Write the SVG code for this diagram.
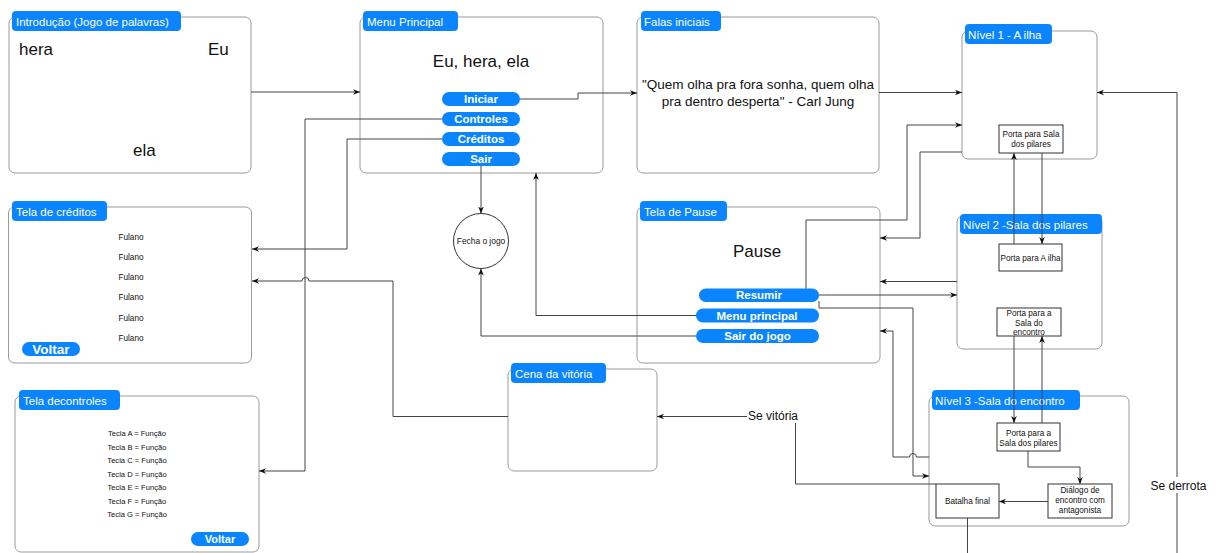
<svg xmlns="http://www.w3.org/2000/svg" width="1216" height="553" viewBox="0 0 1216 553">
<style>
text{font-family:"Liberation Sans",Arial,sans-serif;fill:#111}
.box{fill:#fff;stroke:#9a9a9a;stroke-width:1}
.tab{fill:#0a85ff}
.tt{fill:#fff;font-size:11.5px}
.big{font-size:17px}
.btn{fill:#0a85ff}
.bt{fill:#fff;font-size:11.5px;font-weight:bold;text-anchor:middle}
.sm{font-size:8.2px;text-anchor:middle}
.xs{font-size:7.6px;text-anchor:middle}
.in{fill:#fff;stroke:#333;stroke-width:1}
.e{fill:none;stroke:#444;stroke-width:1}
.ea{fill:none;stroke:#444;stroke-width:1;marker-end:url(#a)}
.lbl{font-size:12px;text-anchor:middle}
</style>
<defs>
<marker id="a" viewBox="0 0 10 10" refX="10" refY="5" markerWidth="7" markerHeight="7" orient="auto" markerUnits="userSpaceOnUse">
<path d="M0,1 L10,5 L0,9 L3,5 z" fill="#111"/>
</marker>
</defs>
<rect width="1216" height="553" fill="#fff"/>

<g id="intro">
<rect class="box" x="9" y="17" width="242" height="156" rx="6"/>
<rect class="tab" x="12" y="11" width="169" height="20" rx="4"/>
<text class="tt" x="16" y="25.5">Introdução (Jogo de palavras)</text>
<text class="big" x="19" y="55">hera</text>
<text class="big" x="208" y="55">Eu</text>
<text class="big" x="133" y="156">ela</text>
</g>

<g id="menu">
<rect class="box" x="360" y="17" width="243" height="156" rx="6"/>
<rect class="tab" x="363" y="11" width="95" height="20" rx="4"/>
<text class="tt" x="367" y="25.5">Menu Principal</text>
<text class="big" x="481" y="67" text-anchor="middle">Eu, hera, ela</text>
<rect class="btn" x="442" y="92" width="78" height="14" rx="7"/>
<text class="bt" x="481" y="103">Iniciar</text>
<rect class="btn" x="442" y="112" width="78" height="14" rx="7"/>
<text class="bt" x="481" y="123">Controles</text>
<rect class="btn" x="442" y="132" width="78" height="14" rx="7"/>
<text class="bt" x="481" y="143">Créditos</text>
<rect class="btn" x="442" y="152" width="78" height="14" rx="7"/>
<text class="bt" x="481" y="163">Sair</text>
</g>

<g id="falas">
<rect class="box" x="637" y="17" width="242" height="156" rx="6"/>
<rect class="tab" x="641" y="11" width="80" height="20" rx="4"/>
<text class="tt" x="644" y="25.5">Falas iniciais</text>
<text x="758" y="89" font-size="13.5" text-anchor="middle">"Quem olha pra fora sonha, quem olha</text>
<text x="758" y="105.5" font-size="13.5" text-anchor="middle">pra dentro desperta" - Carl Jung</text>
</g>

<g id="nivel1">
<rect class="box" x="962" y="31" width="135" height="128" rx="6"/>
<rect class="tab" x="965" y="24" width="87" height="20" rx="4"/>
<text class="tt" x="968" y="38.5">Nível 1 - A ilha</text>
<rect class="in" x="999" y="125" width="64" height="28"/>
<text class="sm" x="1031" y="136.5">Porta para Sala</text>
<text class="sm" x="1031" y="146.5">dos pilares</text>
</g>

<g id="fecha">
<circle cx="481" cy="241" r="27.5" fill="#fff" stroke="#333"/>
<text x="481" y="244" font-size="8.4" text-anchor="middle">Fecha o jogo</text>
</g>

<g id="creditos">
<rect class="box" x="8.5" y="207" width="243" height="156" rx="6"/>
<rect class="tab" x="12" y="201" width="95" height="20" rx="4"/>
<text class="tt" x="16" y="215.5">Tela de créditos</text>
<text class="sm" x="131" y="239.5">Fulano</text>
<text class="sm" x="131" y="260">Fulano</text>
<text class="sm" x="131" y="280">Fulano</text>
<text class="sm" x="131" y="300">Fulano</text>
<text class="sm" x="131" y="320.5">Fulano</text>
<text class="sm" x="131" y="340.5">Fulano</text>
<rect class="btn" x="22" y="342" width="58" height="14" rx="7"/>
<text class="bt" x="51" y="353.5" style="font-size:13.5px">Voltar</text>
</g>

<g id="pause">
<rect class="box" x="637" y="207" width="243" height="156" rx="6"/>
<rect class="tab" x="640" y="201" width="87" height="20" rx="4"/>
<text class="tt" x="644" y="215.5">Tela de Pause</text>
<text class="big" x="757" y="257" text-anchor="middle">Pause</text>
<rect class="btn" x="699" y="288.5" width="120" height="13.5" rx="6.75"/>
<text class="bt" x="759" y="299">Resumir</text>
<rect class="btn" x="696" y="308.5" width="123" height="14" rx="7"/>
<text class="bt" x="757" y="319.5">Menu principal</text>
<rect class="btn" x="696" y="329" width="123" height="14" rx="7"/>
<text class="bt" x="757.5" y="340">Sair do jogo</text>
</g>

<g id="nivel2">
<rect class="box" x="957" y="216" width="145" height="133" rx="6"/>
<rect class="tab" x="960" y="214" width="142" height="20" rx="4"/>
<text class="tt" x="963" y="228.5">Nível 2 -Sala dos pilares</text>
<rect class="in" x="999" y="244" width="63" height="27"/>
<text class="sm" x="1030.5" y="261">Porta para A ilha</text>
<rect class="in" x="997" y="308" width="64" height="28"/>
<text class="sm" x="1029" y="315.5">Porta para a</text>
<text class="sm" x="1029" y="325.5">Sala do</text>
<text class="sm" x="1029" y="335">encontro</text>
</g>

<g id="cena">
<rect class="box" x="508" y="369" width="149" height="102" rx="6"/>
<rect class="tab" x="511" y="363" width="95" height="20" rx="4"/>
<text class="tt" x="515" y="377.5">Cena da vitória</text>
</g>

<g id="controles">
<rect class="box" x="15" y="396" width="244" height="156" rx="6"/>
<rect class="tab" x="19" y="390" width="101" height="20" rx="4"/>
<text class="tt" x="23" y="404.5">Tela decontroles</text>
<text class="xs" x="137" y="436">Tecla A = Função</text>
<text class="xs" x="137" y="449.5">Tecla B = Função</text>
<text class="xs" x="137" y="463">Tecla C = Função</text>
<text class="xs" x="137" y="476.5">Tecla D = Função</text>
<text class="xs" x="137" y="490">Tecla E = Função</text>
<text class="xs" x="137" y="503.5">Tecla F = Função</text>
<text class="xs" x="137" y="517">Tecla G = Função</text>
<rect class="btn" x="191" y="532" width="58" height="14" rx="7"/>
<text class="bt" x="220" y="543" style="font-size:11px">Voltar</text>
</g>

<g id="nivel3">
<rect class="box" x="929" y="396" width="200" height="130" rx="6"/>
<rect class="tab" x="932" y="390" width="148" height="20" rx="4"/>
<text class="tt" x="935" y="404.5">Nível 3 -Sala do encontro</text>
<rect class="in" x="997" y="423" width="63" height="28"/>
<text class="sm" x="1028.5" y="435.5">Porta para a</text>
<text class="sm" x="1028.5" y="445.5">Sala dos pilares</text>
<rect class="in" x="1048" y="484" width="64" height="34"/>
<text class="sm" x="1080" y="493">Diálogo de</text>
<text class="sm" x="1080" y="503">encontro com</text>
<text class="sm" x="1080" y="513">antagonista</text>
<rect class="in" x="936" y="484" width="63" height="34"/>
<text class="sm" x="967.5" y="504">Batalha final</text>
</g>

<g id="connectors">
<path class="ea" d="M251,92 H360"/>
<path class="ea" d="M520,99 H578 V93 H637"/>
<path class="ea" d="M442,119 H305 V471 H259"/>
<path class="ea" d="M442,139 H347 V249 H252"/>
<path class="ea" d="M508,416.5 H393 V281 H309 A3.5,3.5 0 0 0 302,281 H252"/>
<path class="ea" d="M481,166 V213.5"/>
<path class="ea" d="M696,336 H481 V268.5"/>
<path class="ea" d="M696,315.5 H536 V173"/>
<path class="ea" d="M879,92.5 H962"/>
<path class="ea" d="M806,288.5 V220 H907 V125 H962"/>
<path class="ea" d="M962,152 H920 V238 H880"/>
<path class="ea" d="M957,281.5 H880"/>
<path class="ea" d="M819,295 H957"/>
<path class="ea" d="M819,301 V308 H913 V476 H929"/>
<path class="ea" d="M929,457 H916.5 A3.5,3.5 0 0 0 909.5,457 H893 V331 H880"/>
<path class="ea" d="M1042,153 V244"/>
<path class="ea" d="M1014,244 V153"/>
<path class="ea" d="M1014,336 V423"/>
<path class="ea" d="M1042,423 V336"/>
<path class="ea" d="M1028,451 V467 H1080 V484"/>
<path class="ea" d="M1048,501.5 H999"/>
<path class="ea" d="M936,484 H795.5 V416.5 H657"/>
<rect x="747" y="407" width="52" height="16" fill="#fff"/>
<text class="lbl" x="773" y="420">Se vitória</text>
<path class="ea" d="M967.5,518 V560 H1177 V92.5 H1097"/>
<rect x="1150" y="477" width="57" height="16" fill="#fff"/>
<text class="lbl" x="1178.5" y="490">Se derrota</text>
</g>
</svg>
